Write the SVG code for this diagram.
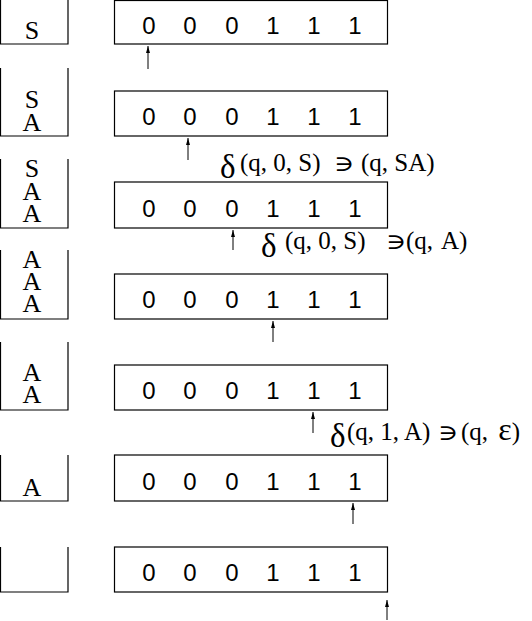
<svg xmlns="http://www.w3.org/2000/svg" width="532" height="621" viewBox="0 0 532 621">
<defs>
<marker id="ah" viewBox="0 0 7 4" refX="7" refY="2" markerWidth="7" markerHeight="4" orient="auto" markerUnits="userSpaceOnUse">
<path d="M0,0 L7,2 L0,4 z" fill="#000"/>
</marker>
<style>
.tape{fill:none;stroke:#000;stroke-width:1.2}
.stk{fill:none;stroke:#000;stroke-width:1.2}
.dig{font-family:"Liberation Sans",Arial,sans-serif;font-size:24px;text-anchor:middle;fill:#000}
.sym{font-family:"Liberation Serif","DejaVu Serif",serif;font-size:26px;text-anchor:middle;fill:#000}
.lbl{font-family:"Liberation Serif","DejaVu Serif",serif;font-size:25px;fill:#000}
.rel{font-family:"DejaVu Serif","Liberation Serif",serif;font-size:22px;fill:#000}
.dl{font-family:"Liberation Serif","DejaVu Serif",serif;font-size:33px;fill:#000}
.ptr{stroke:#000;stroke-width:1;fill:none;marker-end:url(#ah)}
</style>
</defs>
<rect width="532" height="621" fill="#fff"/>

<g id="stack1"><path class="stk" d="M0.5,0 V44 H68 V0"/><text class="sym" x="32" y="39">S</text></g>
<g id="stack2"><path class="stk" d="M0.5,68 V136 H68 V68"/><text class="sym" x="32" y="108">S</text><text class="sym" x="32" y="131">A</text></g>
<g id="stack3"><path class="stk" d="M0.5,159 V228 H68 V159"/><text class="sym" x="32" y="177">S</text><text class="sym" x="32" y="199.5">A</text><text class="sym" x="32" y="222">A</text></g>
<g id="stack4"><path class="stk" d="M0.5,250 V319 H68 V250"/><text class="sym" x="32" y="268">A</text><text class="sym" x="32" y="290">A</text><text class="sym" x="32" y="312">A</text></g>
<g id="stack5"><path class="stk" d="M0.5,342 V410 H68 V342"/><text class="sym" x="32" y="381">A</text><text class="sym" x="32" y="403">A</text></g>
<g id="stack6"><path class="stk" d="M0.5,455 V501 H68 V455"/><text class="sym" x="32" y="496">A</text></g>
<g id="stack7"><path class="stk" d="M0.5,547 V592 H68 V547"/></g>

<g id="tape1"><rect class="tape" x="114.5" y="0.5" width="273" height="43.5"/>
<text class="dig" y="34"><tspan x="149">0</tspan><tspan x="190">0</tspan><tspan x="232">0</tspan><tspan x="273">1</tspan><tspan x="314">1</tspan><tspan x="355">1</tspan></text></g>
<g id="tape2"><rect class="tape" x="114.5" y="91" width="273" height="45"/>
<text class="dig" y="125"><tspan x="149">0</tspan><tspan x="190">0</tspan><tspan x="232">0</tspan><tspan x="273">1</tspan><tspan x="314">1</tspan><tspan x="355">1</tspan></text></g>
<g id="tape3"><rect class="tape" x="114.5" y="182" width="273" height="46"/>
<text class="dig" y="217"><tspan x="149">0</tspan><tspan x="190">0</tspan><tspan x="232">0</tspan><tspan x="273">1</tspan><tspan x="314">1</tspan><tspan x="355">1</tspan></text></g>
<g id="tape4"><rect class="tape" x="114.5" y="274" width="273" height="45"/>
<text class="dig" y="308"><tspan x="149">0</tspan><tspan x="190">0</tspan><tspan x="232">0</tspan><tspan x="273">1</tspan><tspan x="314">1</tspan><tspan x="355">1</tspan></text></g>
<g id="tape5"><rect class="tape" x="114.5" y="365" width="273" height="45"/>
<text class="dig" y="399"><tspan x="149">0</tspan><tspan x="190">0</tspan><tspan x="232">0</tspan><tspan x="273">1</tspan><tspan x="314">1</tspan><tspan x="355">1</tspan></text></g>
<g id="tape6"><rect class="tape" x="114.5" y="455" width="273" height="46"/>
<text class="dig" y="490"><tspan x="149">0</tspan><tspan x="190">0</tspan><tspan x="232">0</tspan><tspan x="273">1</tspan><tspan x="314">1</tspan><tspan x="355">1</tspan></text></g>
<g id="tape7"><rect class="tape" x="114.5" y="547" width="273" height="45"/>
<text class="dig" y="581"><tspan x="149">0</tspan><tspan x="190">0</tspan><tspan x="232">0</tspan><tspan x="273">1</tspan><tspan x="314">1</tspan><tspan x="355">1</tspan></text></g>

<g id="connectors">
<line class="ptr" x1="148" y1="69" x2="148" y2="46"/>
<line class="ptr" x1="188" y1="160" x2="188" y2="138"/>
<line class="ptr" x1="233" y1="250" x2="233" y2="230"/>
<line class="ptr" x1="273" y1="342" x2="273" y2="321"/>
<line class="ptr" x1="313" y1="433" x2="313" y2="412"/>
<line class="ptr" x1="353" y1="524" x2="353" y2="503"/>
<line class="ptr" x1="387" y1="620" x2="387" y2="600"/>
</g>

<g id="label1">
<text class="dl" x="220" y="178">δ</text>
<text class="lbl" x="240" y="171">(q, 0, S)</text>
<text class="rel" transform="translate(334,171) scale(1.25,1)">∋</text>
<text class="lbl" x="361" y="171">(q, SA)</text>
</g>
<g id="label2">
<text class="dl" x="261" y="257">δ</text>
<text class="lbl" x="285" y="249">(q, 0, S)</text>
<text class="rel" transform="translate(386,249) scale(1.25,1)">∋</text>
<text class="lbl" x="406" y="249" word-spacing="3">(q, A)</text>
</g>
<g id="label3">
<text class="dl" x="330" y="447">δ</text>
<text class="lbl" x="347" y="440">(q, 1, A)</text>
<text class="rel" transform="translate(438,440) scale(1.25,1)">∋</text>
<text class="lbl" x="461" y="440" word-spacing="4">(q, <tspan font-size="32">ε</tspan>)</text>
</g>
</svg>
